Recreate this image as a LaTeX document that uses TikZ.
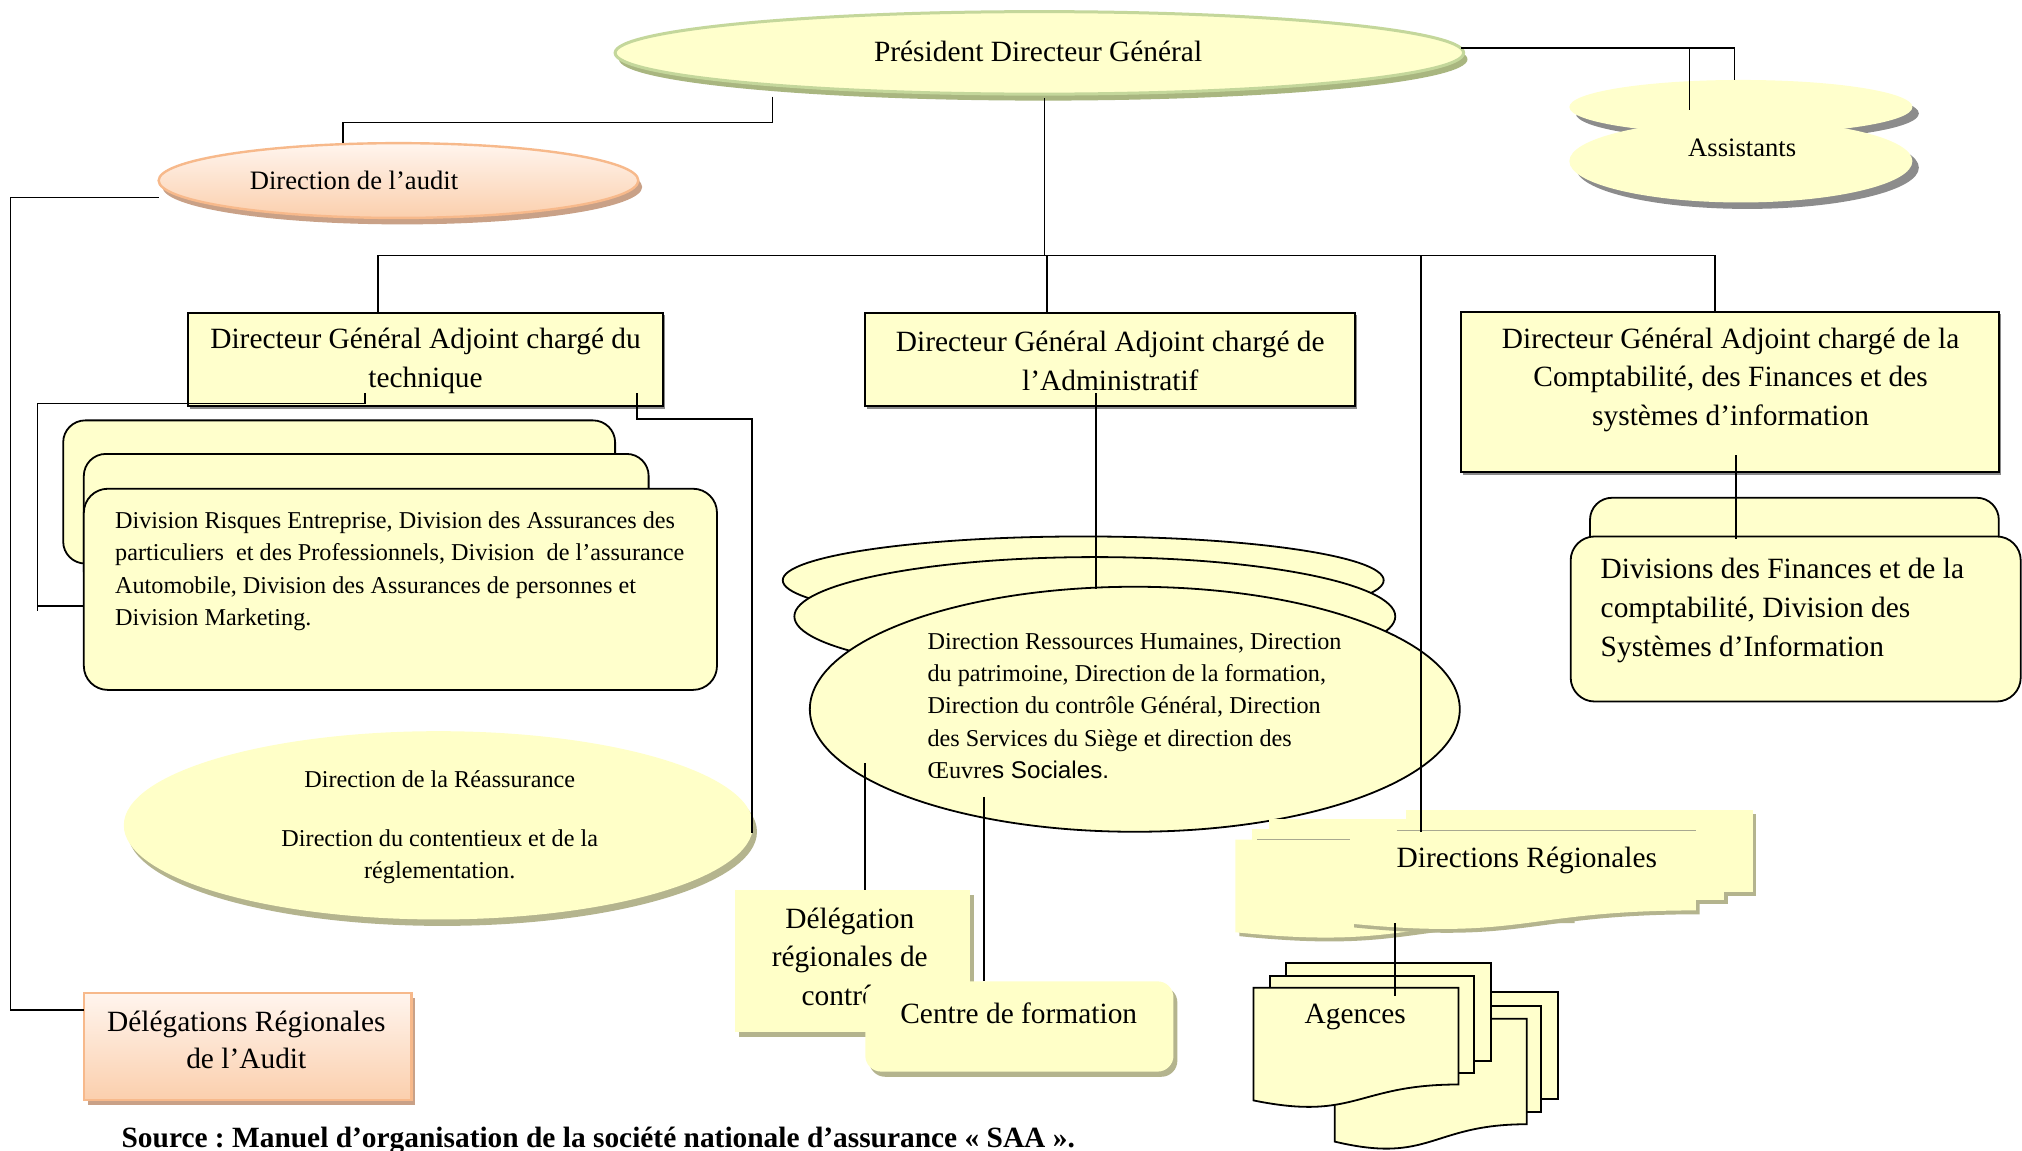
\documentclass[tikz,border=0pt]{standalone}
\usepackage{fontspec}
\setmainfont{Liberation Serif}
\newfontfamily\arialfont{Liberation Sans}
\usetikzlibrary{calc}
\frenchspacing

\definecolor{paleyellow}{HTML}{FFFFCC}
\definecolor{softyellow}{HTML}{FFFFC8}
\definecolor{olivesh}{HTML}{B4B48E}
\definecolor{oliveline}{HTML}{A8A890}
\definecolor{greensh}{HTML}{A9B680}
\definecolor{greenline}{HTML}{C4D79B}
\definecolor{greysh}{HTML}{8C8C8C}
\definecolor{peachtop}{HTML}{FFF5EE}
\definecolor{peachbot}{HTML}{FBCFAD}
\definecolor{peachline}{HTML}{F7B98B}
\definecolor{peachsh}{HTML}{C9A187}
\definecolor{boxsh}{HTML}{8A8A8A}

% flowchart "document" outline: left x, top y, width, height
\newcommand\docshape[5][]{%
  \path[#1] (#2,#3) -- ({#2+#4},#3) -- ({#2+#4},{#3+0.802*#5})
    .. controls ({#2+0.5*#4},{#3+0.802*#5}) and ({#2+0.5*#4},{#3+1.108*#5})
    .. (#2,{#3+0.934*#5}) -- cycle;}

\begin{document}
\begin{tikzpicture}[x=0.6448pt,y=-0.6448pt,
  conn/.style={line width=0.8pt,draw=black},
  frame/.style={draw=black,line width=0.9pt,fill=paleyellow},
  fbig/.style={font=\fontsize{14.7}{19.4}\selectfont},
  fmid/.style={font=\fontsize{13.3}{17}\selectfont},
  fsmall/.style={font=\fontsize{12.1}{16.1}\selectfont},
  txt/.style={inner sep=0pt,align=center}]

\useasboundingbox (0,0) rectangle (1568,892);
\fill[white] (0,0) rectangle (1568,892);

% ---------- President ----------
\fill[greensh] (809,46) ellipse [x radius=329, y radius=32];
\filldraw[fill=paleyellow, draw=greenline, line width=1.5pt] (806,41) ellipse [x radius=329, y radius=32];
\node[txt,fbig] (pdg) at (805,40) {Président Directeur Général};

% ---------- Assistants ----------
\fill[greysh] (1355,88) ellipse [x radius=133, y radius=21];
\fill[greysh] (1355,130) ellipse [x radius=133, y radius=32];
\fill[paleyellow] (1350,83) ellipse [x radius=133, y radius=21];
\fill[paleyellow] (1350,125) ellipse [x radius=133, y radius=32];
\node[txt,fmid] (assist) at (1351,115) {Assistants};

% ---------- Audit ----------
\fill[peachsh] (312,145) ellipse [x radius=186, y radius=29];
\shade[top color=peachtop, bottom color=peachbot, draw=peachline, line width=1.2pt] (309,140) ellipse [x radius=186, y radius=29];
\node[txt,fmid] (audit) at (274.5,140) {Direction de l’audit};

% ---------- Deputy directors ----------
\fill[boxsh] (147.5,244.5) rectangle (515.5,317);
\path[frame] (146,243) rectangle (514,315);
\node[txt,fbig] (dgat) at (330,280) {Directeur Général Adjoint chargé du\\technique};

\fill[boxsh] (672.5,244.5) rectangle (1052.5,317);
\path[frame] (671,243) rectangle (1051,315);
\node[txt,fbig] (dgaa) at (861,280) {Directeur Général Adjoint chargé de\\l’Administratif};

\fill[boxsh] (1134.5,243.5) rectangle (1551.5,368);
\path[frame] (1133,242) rectangle (1550,366);
\node[txt,fbig] (dgacf) at (1342,294.5) {Directeur Général Adjoint chargé de la\\Comptabilité, des Finances et des\\systèmes d’information};

% ---------- Technical divisions ----------
\path[frame,rounded corners=11pt] (49,326) rectangle (477,437);
\path[frame,rounded corners=11pt] (65,352) rectangle (503,460);
\path[frame,rounded corners=12pt] (65,379) rectangle (556,535);
\node[txt,fsmall,align=left,anchor=west] (divt) at (89,443)
  {Division Risques Entreprise, Division des Assurances des\\particuliers\ \ et des Professionnels, Division\ \ de l’assurance\\Automobile, Division des Assurances de personnes et\\Division Marketing.};

% ---------- Finance divisions ----------
\path[frame,rounded corners=11pt] (1233,386) rectangle (1550,450);
\path[frame,rounded corners=12pt] (1218,416) rectangle (1567,544);
\node[txt,fbig,align=left,anchor=west] (divf) at (1241,473.5)
  {Divisions des Finances et de la\\comptabilité, Division des\\Systèmes d’Information};

% ---------- Reinsurance ----------
\fill[olivesh] (343,645) ellipse [x radius=244, y radius=73];
\fill[softyellow] (340,640) ellipse [x radius=244, y radius=73];
\node[txt,fsmall] (reass) at (341,641.5)
  {Direction de la Réassurance\\[13.5pt]Direction du contentieux et de la\\réglementation.};

% ---------- Regional audit delegations ----------
\fill[peachsh] (68,774) rectangle (322,857);
\shade[top color=peachtop, bottom color=peachbot, draw=peachline, line width=1.2pt] (65,770) rectangle (319,853);
\node[txt,fbig,font=\fontsize{14.7}{18.7}\selectfont] (delaud) at (191,806.5) {Délégations Régionales\\de l’Audit};

% ---------- Administrative directions ----------
\path[frame] (840,450) ellipse [x radius=233, y radius=34];
\path[frame] (849,478) ellipse [x radius=233, y radius=46];
\path[frame] (880,550) ellipse [x radius=252, y radius=95];
\node[txt,fsmall,align=left,anchor=west] (dirrh) at (719,547.5)
  {Direction Ressources Humaines, Direction\\du patrimoine, Direction de la formation,\\Direction du contrôle Général, Direction\\des Services du Siège et direction des\\Œuvre{\arialfont s Sociales.}};

% ---------- Regional control delegations and training centre ----------
\fill[olivesh] (573,694) rectangle (755,804);
\fill[softyellow] (570,690) rectangle (752,800);
\node[txt,fbig] (delctl) at (659,742) {Délégation\\régionales de\\contrôle};

\fill[olivesh,rounded corners=8pt] (674,765) rectangle (913,835);
\fill[softyellow,rounded corners=8pt] (671,761) rectangle (910,831);
\node[txt,fbig] (cform) at (790,786) {Centre de formation};

% ---------- Regional directions (stacked documents) ----------
\fill[olivesh] (987,638) rectangle (1233,703);
\fill[olivesh] (974,646) rectangle (1223,711);
\docshape[fill=olivesh]{961}{654}{260}{77}
\fill[softyellow] (984,635) rectangle (1230,700);
\fill[softyellow] (971,643) rectangle (1220,708);
\docshape[fill=softyellow]{958}{651}{260}{77}
\draw[oliveline,line width=0.6pt] (975,651) -- (1047,651);

\fill[olivesh] (1093,631) rectangle (1362,695);
\fill[olivesh] (1071,639) rectangle (1340,701);
\docshape[fill=olivesh]{1050}{647}{268}{77.3}
\fill[softyellow] (1090,628) rectangle (1359,692);
\fill[softyellow] (1068,636) rectangle (1337,698);
\docshape[fill=softyellow]{1047}{644}{268}{77.3}
\draw[oliveline,line width=0.6pt] (1083,644) -- (1315,644);
\node[txt,fbig] (dirreg) at (1184,667) {Directions Régionales};

% ---------- Agencies (stacked documents) ----------
\path[frame] (1062,769) rectangle (1208,852);
\path[frame] (1050,780) rectangle (1195,862);
\docshape[frame]{1035}{790}{149}{102}
\path[frame] (997,747) rectangle (1156,823);
\path[frame] (985,757) rectangle (1143,832);
\docshape[frame]{972}{766}{159}{93.5}
\node[txt,fbig] (agences) at (1051,789) {Agences};

% ---------- Source ----------
\node[inner sep=0pt,anchor=base west,font=\fontsize{14.7}{17}\selectfont\bfseries] (source) at (94,890)
  {Source : Manuel d’organisation de la société nationale d’assurance « SAA ».};

% ---------- Connectors ----------
\coordinate (pdgR) at (1133,37);
\coordinate (asTop) at (1345,62);
\coordinate (asJ) at (1310,37);
\coordinate (asIn) at (1310,85);
\draw[conn] (pdgR) -| (asTop);
\draw[conn] (asJ) -- (asIn);

\coordinate (pdgL) at (599,75);
\coordinate (audT) at (266,111);
\draw[conn] (pdgL) -- (599,95) -| (audT);

\coordinate (audL) at (123,153);
\coordinate (delaudL) at (65,783);
\draw[conn] (audL) -- (8,153) |- (delaudL);

\coordinate (pdgB) at (810,76);
\coordinate (bus) at (810,198);
\coordinate (dgatT) at (293,243);
\coordinate (dgaaT) at (812,243);
\coordinate (dgacfT) at (1330,242);
\coordinate (dirregT) at (1102,645);
\draw[conn] (pdgB) -- (bus);
\draw[conn] (dgatT) |- (dgacfT |- bus) -- (dgacfT);
\draw[conn] (dgaaT |- bus) -- (dgaaT);
\draw[conn] (dirregT |- bus) -- (dirregT);

\coordinate (dgatA) at (283,305);
\coordinate (divtL) at (65,470);
\draw[conn] (dgatA) -- (283,313) -- (29,313) -- (29,474);
\draw[conn] (29,470) -- (divtL);

\coordinate (dgatB) at (494,305);
\coordinate (reassR) at (583,646);
\draw[conn] (dgatB) -- (494,325) -| (reassR);

\coordinate (dgaaB) at (850,305);
\coordinate (dirrhT) at (850,457);
\draw[conn] (dgaaB) -- (dirrhT);

\coordinate (dirrhA) at (671,592);
\coordinate (delctlT) at (671,690);
\draw[conn] (dirrhA) -- (delctlT);

\coordinate (dirrhB) at (763,618);
\coordinate (cformT) at (763,761);
\draw[conn] (dirrhB) -- (cformT);

\coordinate (dirregB) at (1082,716);
\coordinate (agencesT) at (1082,772);
\draw[conn] (dirregB) -- (agencesT);

\coordinate (dgacfB) at (1346,353);
\coordinate (divfT) at (1346,418);
\draw[conn] (dgacfB) -- (divfT);

\end{tikzpicture}
\end{document}
